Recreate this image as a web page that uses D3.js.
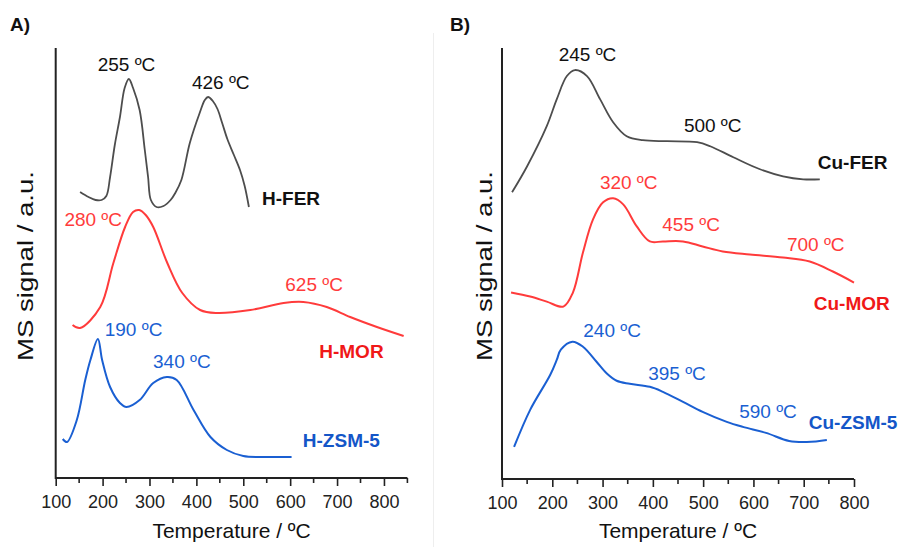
<!DOCTYPE html>
<html>
<head>
<meta charset="utf-8">
<script src="https://cdn.jsdelivr.net/npm/d3@7"></script>
<style>
  body { margin: 0; background: #fff; }
  svg { display: block; font-family: Arial, "Liberation Sans", sans-serif; }
</style>
</head>
<body>
<div id="chart"></div>
<script>
// temperatures (ºC) and MS signal (a.u.)
var hferT = [152,170,185,198,208,216,226,237,247,256,265,279,290,297,303,315,330,345,355,368,386,407,418,425,435,445,455,466,480,493,503,512];
var hferV = [28.6,28.1,27.8,27.8,28.2,30.1,33.3,36.1,39.0,39.9,39.0,36.8,32.8,30.1,27.8,27.1,27.2,27.8,28.5,29.8,33.5,36.5,37.8,38.1,37.7,36.9,35.5,33.9,32.3,30.8,29.2,27.1];

var hmorT = [136,152,195,223,248,265,278,292,308,338,370,408,444,515,586,628,678,728,785,842];
var hmorV = [15.3,15.0,17.1,21.5,25.1,26.6,26.8,26.3,25.1,21.5,18.5,16.8,16.5,16.8,17.5,17.6,17.1,16.1,15.1,14.2];

var hzsmT = [115,124,145,163,174,190,199,216,237,251,279,308,337,358,394,430,465,500,550,603];
var hzsmV = [3.9,3.6,5.8,9.8,11.8,13.9,11.8,9.1,7.5,7.1,7.8,9.5,10.1,9.8,6.8,4.1,2.8,2.2,2.1,2.1];

var cuferT = [120,150,189,209,229,245,269,295,321,348,380,428,488,514,560,613,659,699,732];
var cuferV = [28.6,31.2,35.2,37.9,40.2,40.8,40.2,37.9,35.6,34.2,33.8,33.7,33.6,33.2,32.1,30.9,30.2,29.9,29.9];

var cumorT = [118,156,189,222,241,261,281,301,321,341,368,394,420,460,499,539,593,659,712,758,800];
var cumorV = [18.6,18.2,17.7,17.2,18.6,22.6,25.9,27.6,28.0,27.4,25.2,23.7,23.7,23.7,23.2,22.7,22.4,22.1,21.7,20.7,19.6];

var cuzsmT = [124,156,196,209,217,240,261,288,309,328,354,394,420,460,499,547,579,625,671,706,746];
var cuzsmV = [3.2,6.9,10.4,11.9,12.9,13.7,13.2,11.7,10.5,9.8,9.5,9.2,8.7,7.7,6.7,5.7,5.2,4.6,3.8,3.7,3.9];

var tickValsA = [100,200,300,400,500,600,700,800];
var tickValsB = [100,200,300,400,500,600,700,800];

// peak labels: [text, temperature, signal, colour key]
var peaksA = [["255 ºC",251,40.7,"grey"],["426 ºC",452,38.9,"grey"],
              ["280 ºC",180,25.2,"red"],["625 ºC",651,18.7,"red"],
              ["190 ºC",266,14.2,"blue"],["340 ºC",369,11.0,"blue"]];
var namesA = [["H-FER",540,27.3,"grey"],["H-MOR",662,12.0,"red"],["H-ZSM-5",627,3.1,"blue"]];

var peaksB = [["245 ºC",270,41.7,"grey"],["500 ºC",519,34.6,"grey"],
              ["320 ºC",352,28.9,"red"],["455 ºC",476,24.7,"red"],["700 ºC",724,22.7,"red"],
              ["240 ºC",319,14.2,"blue"],["395 ºC",448,9.9,"blue"],["590 ºC",629,6.1,"blue"]];
var namesB = [["Cu-FER",728,30.9,"grey"],["Cu-MOR",720,16.9,"red"],["Cu-ZSM-5",710,5.0,"blue"]];

var lineCol = {grey: "#4d4d4d", red: "#ff3b3b", blue: "#1a5fd2"};
var textCol = {grey: "#111", red: "#ff3b3b", blue: "#1a5fd2"};
var nameCol = {grey: "#111", red: "#f01818", blue: "#1456c8"};

var w = 904, h = 547;

var svg = d3.select("#chart")
            .append("svg")
            .attr("width", w)
            .attr("height", h);

// faint divider between the two panels
svg.append("line")
   .attr("x1", 433.5).attr("x2", 433.5)
   .attr("y1", 33).attr("y2", h)
   .attr("stroke", "#eeeeee").attr("stroke-width", 1);

function zip(ts, vs) {
  return ts.map(function(t, i) { return {t: t, v: vs[i]}; });
}

function drawPanel(opt) {
  var xScale = d3.scaleLinear().domain(opt.xDomain).range(opt.xRange);
  var yScale = d3.scaleLinear().domain([0, 43]).range([opt.yBase, 48]);

  var g = svg.append("g");

  // panel letter
  g.append("text")
   .attr("x", opt.letterX).attr("y", 31)
   .attr("font-size", 19).attr("font-weight", "bold")
   .attr("fill", "#111")
   .text(opt.letter);

  // curves
  var line = d3.line()
               .x(function(d) { return xScale(d.t); })
               .y(function(d) { return yScale(d.v); })
               .curve(d3.curveCatmullRom.alpha(0.5));

  opt.series.forEach(function(s) {
    g.append("path")
     .attr("d", line(s.data))
     .attr("fill", "none")
     .attr("stroke", lineCol[s.col])
     .attr("stroke-width", s.col == "grey" ? 1.8 : 2)
     .attr("stroke-linejoin", "round");
  });

  // x axis, major + minor ticks
  var xAxis = d3.axisBottom(xScale)
                .tickValues(opt.ticks)
                .tickSize(8)
                .tickSizeOuter(0)
                .tickFormat(d3.format("d"));
  var ax = g.append("g")
            .attr("transform", "translate(0," + opt.yBase + ")")
            .call(xAxis);
  ax.select(".domain").attr("stroke", "#222").attr("stroke-width", 2)
    .attr("d", "M" + opt.xRange[0] + ",0H" + opt.xRange[1]);
  ax.selectAll(".tick line").attr("stroke", "#222").attr("stroke-width", 1.6);
  ax.selectAll(".tick text")
    .attr("font-size", 18).attr("fill", "#222")
    .attr("font-family", "Arial, 'Liberation Sans', sans-serif")
    .attr("dy", null).attr("y", 30);

  var minor = d3.range(opt.xDomain[0] + 50, opt.xDomain[1] + 1, 100);
  g.selectAll(".minor")
   .data(minor)
   .enter()
   .append("line")
   .attr("x1", function(d) { return xScale(d); })
   .attr("x2", function(d) { return xScale(d); })
   .attr("y1", opt.yBase).attr("y2", opt.yBase + 5)
   .attr("stroke", "#222").attr("stroke-width", 1.6);

  // y axis (no ticks)
  g.append("line")
   .attr("x1", opt.xRange[0]).attr("x2", opt.xRange[0])
   .attr("y1", 48).attr("y2", opt.yBase + 1)
   .attr("stroke", "#222").attr("stroke-width", 2);

  // axis titles
  g.append("text")
   .attr("x", (opt.xRange[0] + opt.xRange[1]) / 2)
   .attr("y", 538)
   .attr("text-anchor", "middle")
   .attr("font-size", 21).attr("fill", "#111")
   .text("Temperature / ºC");

  g.append("text")
   .attr("transform", "translate(" + opt.yTitleX + ",266) rotate(-90)")
   .attr("text-anchor", "middle")
   .attr("font-size", 22).attr("fill", "#111")
   .attr("textLength", 190).attr("lengthAdjust", "spacingAndGlyphs")
   .text("MS signal / a.u.");

  // peak labels
  opt.peaks.forEach(function(p) {
    g.append("text")
     .attr("x", xScale(p[1])).attr("y", yScale(p[2]))
     .attr("text-anchor", "middle")
     .attr("font-size", 19).attr("fill", textCol[p[3]])
     .text(p[0]);
  });

  // sample names
  opt.names.forEach(function(p) {
    g.append("text")
     .attr("x", xScale(p[1])).attr("y", yScale(p[2]))
     .attr("font-size", 19).attr("font-weight", "bold")
     .attr("fill", nameCol[p[3]])
     .text(p[0]);
  });
}

drawPanel({
  letter: "A)", letterX: 10,
  xDomain: [100, 850], xRange: [55.7, 407.4], yBase: 478,
  ticks: tickValsA, yTitleX: 33,
  series: [{data: zip(hferT, hferV), col: "grey"},
           {data: zip(hmorT, hmorV), col: "red"},
           {data: zip(hzsmT, hzsmV), col: "blue"}],
  peaks: peaksA, names: namesA
});

drawPanel({
  letter: "B)", letterX: 450,
  xDomain: [100, 800], xRange: [502, 854], yBase: 479,
  ticks: tickValsB, yTitleX: 492,
  series: [{data: zip(cuferT, cuferV), col: "grey"},
           {data: zip(cumorT, cumorV), col: "red"},
           {data: zip(cuzsmT, cuzsmV), col: "blue"}],
  peaks: peaksB, names: namesB
});
</script>
</body>
</html>
